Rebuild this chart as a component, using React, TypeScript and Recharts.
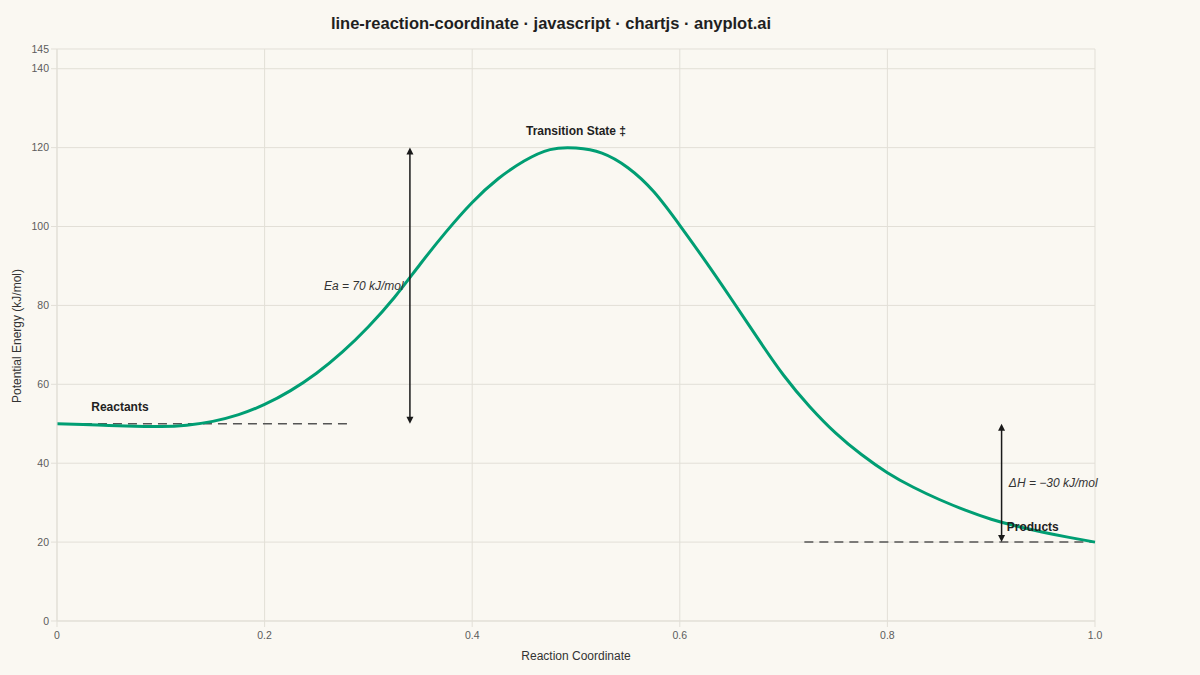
import React from 'react'
import {
  LineChart,
  Line,
  XAxis,
  YAxis,
  CartesianGrid,
  ReferenceLine,
  ReferenceDot,
} from 'recharts'

// reaction coordinate (x) and potential energy (kJ/mol)
const coordX = [
  0, 0.025, 0.05, 0.075, 0.1, 0.125, 0.15, 0.175, 0.2, 0.225,
  0.25, 0.275, 0.3, 0.325, 0.35, 0.375, 0.4, 0.425, 0.45, 0.475,
  0.5, 0.525, 0.55, 0.575, 0.6, 0.625, 0.65, 0.675, 0.7, 0.725,
  0.75, 0.775, 0.8, 0.825, 0.85, 0.875, 0.9, 0.925, 0.95, 0.975, 1.0,
]
const energy = [
  50, 49.8, 49.55, 49.35, 49.3, 49.65, 50.6, 52.3, 54.9, 58.4,
  62.8, 68.2, 74.6, 82, 90.5, 98.7, 106.1, 112.1, 116.6, 119.5,
  119.9, 118.6, 114.9, 108.8, 100.3, 91.1, 81.5, 71.7, 62.3, 54.4,
  47.7, 42.2, 37.6, 33.9, 30.8, 28.1, 25.8, 24, 22.5, 21.2, 20,
]

const xTicks = [0, 0.2, 0.4, 0.6, 0.8, 1.0]
const yTicks = [0, 20, 40, 60, 80, 100, 120, 140, 145]

const reactantE = 50
const transitionE = 120
const productE = 20

const data = coordX.map((x, i) => ({ x, energy: energy[i] }))

const FONT = '"Liberation Sans", Arial, sans-serif'
const GRID = '#e2dfd7'

function ArrowShape(props: any) {
  const { x1, y1, x2, y2 } = props
  const top = Math.min(y1, y2)
  const bot = Math.max(y1, y2)
  const x = x1
  return (
    <g>
      <line x1={x} y1={top + 4} x2={x} y2={bot - 4} stroke="#1a1a1a" strokeWidth={1.5} />
      <polygon points={`${x},${top} ${x - 3.5},${top + 7} ${x + 3.5},${top + 7}`} fill="#1a1a1a" />
      <polygon points={`${x},${bot} ${x - 3.5},${bot - 7} ${x + 3.5},${bot - 7}`} fill="#1a1a1a" />
    </g>
  )
}

function textAt(text: string, opts: { anchor?: string; bold?: boolean; italic?: boolean }) {
  return (props: any) => (
    <text
      x={props.cx}
      y={props.cy}
      dy="0.35em"
      textAnchor={opts.anchor || 'start'}
      fontFamily={FONT}
      fontSize={12}
      fontWeight={opts.bold ? 700 : 400}
      fontStyle={opts.italic ? 'italic' : 'normal'}
      fill={opts.bold ? '#1f1f1f' : '#333'}
    >
      {text}
    </text>
  )
}

export default function App() {
  return (
    <div style={{ position: 'absolute', left: 0, top: 0, width: 1200, height: 675, background: '#faf8f2', fontFamily: FONT }}>
      <div style={{ position: 'absolute', left: 0, width: 1102, top: 14, textAlign: 'center', fontSize: 16.5, fontWeight: 700, color: '#1f1f1f' }}>
        line-reaction-coordinate · javascript · chartjs · anyplot.ai
      </div>
      <div style={{ position: 'absolute', left: 0, width: 1152, top: 649, textAlign: 'center', fontSize: 12, color: '#333' }}>
        Reaction Coordinate
      </div>
      <div
        style={{
          position: 'absolute',
          left: 17,
          top: 336,
          transform: 'translate(-50%, -50%) rotate(-90deg)',
          whiteSpace: 'nowrap',
          fontSize: 12,
          color: '#333',
        }}
      >
        Potential Energy (kJ/mol)
      </div>
      <LineChart
        width={1200}
        height={675}
        data={data}
        margin={{ top: 49, right: 105, left: 0, bottom: 0 }}
        style={{ position: 'absolute', left: 0, top: 0 }}
      >
        <CartesianGrid stroke={GRID} strokeWidth={1} />
        <XAxis
          type="number"
          dataKey="x"
          domain={[0, 1]}
          ticks={xTicks}
          interval={0}
          height={54}
          tickSize={6}
          tickMargin={5}
          stroke={GRID}
          tickLine={{ stroke: GRID }}
          tick={{ fill: '#5c5c5c', fontSize: 10.5, fontFamily: FONT }}
          tickFormatter={(v: number) => (v === 1 ? '1.0' : String(v))}
        />
        <YAxis
          type="number"
          domain={[0, 145]}
          ticks={yTicks}
          interval={0}
          width={57}
          tickSize={6}
          tickMargin={2}
          stroke={GRID}
          tickLine={{ stroke: GRID }}
          tick={{ fill: '#5c5c5c', fontSize: 10.5, fontFamily: FONT }}
        />
        <ReferenceLine
          segment={[{ x: 0.025, y: reactantE }, { x: 0.28, y: reactantE }]}
          stroke="#555"
          strokeWidth={1.5}
          strokeDasharray="9 6"
        />
        <ReferenceLine
          segment={[{ x: 0.72, y: productE }, { x: 1.0, y: productE }]}
          stroke="#555"
          strokeWidth={1.5}
          strokeDasharray="9 6"
        />
        <Line
          type="natural"
          dataKey="energy"
          stroke="#009e73"
          strokeWidth={3}
          dot={false}
          activeDot={false}
          isAnimationActive={false}
        />
        <ReferenceLine
          segment={[{ x: 0.34, y: reactantE }, { x: 0.34, y: transitionE }]}
          shape={ArrowShape}
        />
        <ReferenceLine
          segment={[{ x: 0.91, y: productE }, { x: 0.91, y: reactantE }]}
          shape={ArrowShape}
        />
        <ReferenceDot x={0.033} y={54.2} r={0} shape={textAt('Reactants', { bold: true })} />
        <ReferenceDot x={0.5} y={124.2} r={0} shape={textAt('Transition State ‡', { bold: true, anchor: 'middle' })} />
        <ReferenceDot x={0.915} y={24} r={0} shape={textAt('Products', { bold: true })} />
        <ReferenceDot x={0.334} y={85} r={0} shape={textAt('Ea = 70 kJ/mol', { italic: true, anchor: 'end' })} />
        <ReferenceDot x={0.917} y={35} r={0} shape={textAt('ΔH = −30 kJ/mol', { italic: true })} />
      </LineChart>
    </div>
  )
}
